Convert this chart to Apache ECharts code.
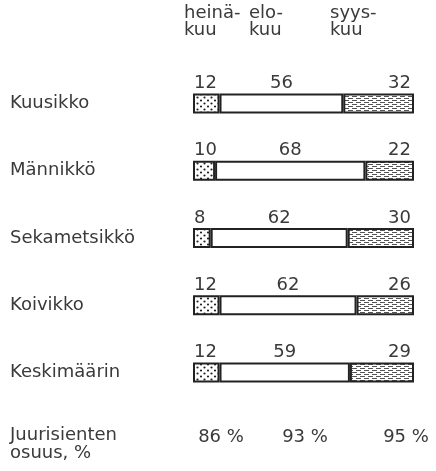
<!DOCTYPE html>
<html>
<head>
<meta charset="utf-8">
<script src="https://cdn.jsdelivr.net/npm/echarts@6/dist/echarts.min.js"></script>
<style>
  html, body { margin: 0; padding: 0; background: #fff; }
  #chart { width: 436px; height: 471px; }
</style>
</head>
<body>
<div id="chart"></div>
<script>
  // data
  const categories = ['Kuusikko', 'Männikkö', 'Sekametsikkö', 'Koivikko', 'Keskimäärin'];
  const heinakuu = [12, 10, 8, 12, 12];
  const elokuu = [56, 68, 62, 62, 59];
  const syyskuu = [32, 22, 30, 26, 29];
  const monthHeaders = ['heinä-\nkuu', 'elo-\nkuu', 'syys-\nkuu'];
  const shareLabel = 'Juurisienten\nosuus, %';
  const shares = [86, 93, 95];

  const FONT = 'DejaVu Sans';
  const TXT = '#3a3a3a';

  // fill patterns (dots / dashes)
  function dotPattern() {
    const c = document.createElement('canvas');
    c.width = 7; c.height = 6;
    const ctx = c.getContext('2d');
    ctx.fillStyle = '#fff';
    ctx.fillRect(0, 0, 7, 6);
    ctx.fillStyle = '#222';
    ctx.beginPath(); ctx.arc(1.5, 1.5, 1.1, 0, Math.PI * 2); ctx.fill();
    ctx.beginPath(); ctx.arc(5, 4.5, 1.1, 0, Math.PI * 2); ctx.fill();
    return c;
  }
  function dashPattern() {
    const c = document.createElement('canvas');
    c.width = 8; c.height = 4;
    const ctx = c.getContext('2d');
    ctx.fillStyle = '#fff';
    ctx.fillRect(0, 0, 8, 4);
    ctx.fillStyle = '#555';
    ctx.fillRect(0, 0, 5, 1);
    ctx.fillRect(4, 2, 4, 1);
    ctx.fillRect(0, 2, 1, 1);
    return c;
  }

  const labelBase = {
    show: true,
    color: TXT,
    fontFamily: FONT,
    fontSize: 18,
    verticalAlign: 'bottom'
  };
  const border = { borderColor: '#222', borderWidth: 2 };

  const headerX = [184, 249, 330];
  const shareX = [221, 305, 406];

  const graphics = [];
  monthHeaders.forEach((t, i) => {
    graphics.push({
      type: 'text', left: headerX[i], top: 4,
      style: { text: t, fill: TXT, font: '18px "' + FONT + '"', lineHeight: 17 }
    });
  });
  graphics.push({
    type: 'text', left: 10, top: 426,
    style: { text: shareLabel, fill: TXT, font: '18px "' + FONT + '"', lineHeight: 18 }
  });
  shares.forEach((v, i) => {
    graphics.push({
      type: 'text', x: shareX[i], y: 437,
      style: { text: v + ' %', fill: TXT, font: '18px "' + FONT + '"', align: 'center', verticalAlign: 'middle' }
    });
  });

  const myChart = echarts.init(document.getElementById('chart'), null, { renderer: 'canvas' });
  myChart.setOption({
    animation: false,
    backgroundColor: '#fff',
    grid: { left: 193, right: 22, top: 70, height: 336 },
    xAxis: { type: 'value', min: 0, max: 100, show: false },
    yAxis: {
      type: 'category',
      data: categories,
      inverse: true,
      axisLine: { show: false },
      axisTick: { show: false },
      splitLine: { show: false },
      axisLabel: { align: 'left', margin: 183, color: TXT, fontFamily: FONT, fontSize: 18 }
    },
    series: [
      {
        name: 'heinäkuu', type: 'bar', stack: 'k', barWidth: 20,
        data: heinakuu,
        itemStyle: Object.assign({ color: { image: dotPattern(), repeat: 'repeat' } }, border),
        label: Object.assign({ position: [1, -1], align: 'left' }, labelBase)
      },
      {
        name: 'elokuu', type: 'bar', stack: 'k', barWidth: 20,
        data: elokuu,
        itemStyle: Object.assign({ color: '#fff' }, border),
        label: Object.assign({ position: ['50%', -1], align: 'center' }, labelBase)
      },
      {
        name: 'syyskuu', type: 'bar', stack: 'k', barWidth: 20,
        data: syyskuu,
        itemStyle: Object.assign({ color: { image: dashPattern(), repeat: 'repeat' } }, border),
        label: Object.assign({ position: ['100%', -1], align: 'right', offset: [-3, 0] }, labelBase)
      }
    ],
    graphic: graphics
  });
</script>
</body>
</html>
